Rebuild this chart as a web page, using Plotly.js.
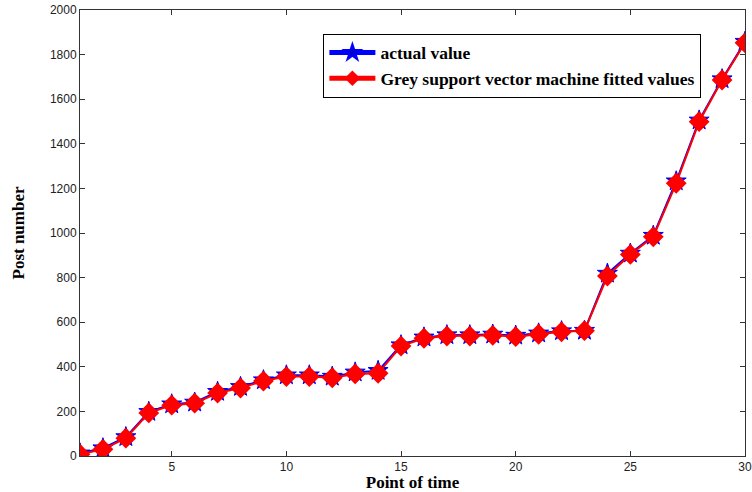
<!DOCTYPE html>
<html>
<head>
<meta charset="utf-8">
<script src="https://cdn.plot.ly/plotly-3.0.1.min.js"></script>
<style>html,body{margin:0;padding:0;background:#fff;}#chart{width:752px;height:492px;}</style>
</head>
<body>
<div id="chart"></div>
<script>
const timePoints = [1,2,3,4,5,6,7,8,9,10,11,12,13,14,15,16,17,18,19,20,21,22,23,24,25,26,27,28,29,30];
const actualValues = [12,35,85,198,232,240,288,310,340,362,362,356,375,382,497,532,542,542,545,540,550,560,562,818,908,988,1232,1505,1690,1858];
const fittedValues = [8,30,80,193,228,237,282,305,336,356,356,351,368,371,493,528,538,538,541,535,546,557,562,807,904,983,1223,1499,1686,1853];
const seriesNames = ['actual value', 'Grey support vector machine fitted values'];
const xTicks = [5,10,15,20,25,30];
const yTicks = [0,200,400,600,800,1000,1200,1400,1600,1800,2000];

const serif = 'Liberation Serif, Times New Roman, serif';

const traces = [
  {
    x: timePoints, y: actualValues, name: seriesNames[0], type: 'scatter', mode: 'lines+markers',
    line: {color: '#0000ff', width: 2},
    marker: {symbol: 'star', size: 15, color: '#0000cc', line: {color: '#0000ff', width: 1}}
  },
  {
    x: timePoints, y: fittedValues, name: seriesNames[1], type: 'scatter', mode: 'lines+markers',
    line: {color: '#ff0000', width: 2},
    marker: {symbol: 'diamond', size: 16, color: '#ff0000', line: {width: 0}}
  }
];

const axisCommon = {
  showline: true, linecolor: '#333', linewidth: 1, mirror: 'ticks',
  ticks: 'inside', ticklen: 5, tickcolor: '#333', tickwidth: 1,
  showgrid: false, zeroline: false,
  tickfont: {family: 'Liberation Sans, Arial, sans-serif', size: 12, color: '#222'}
};

const layout = {
  width: 752, height: 492,
  margin: {l: 80, r: 7, t: 10, b: 36},
  paper_bgcolor: '#fff', plot_bgcolor: '#fff',
  showlegend: true,
  xaxis: Object.assign({}, axisCommon, {
    range: [1, 30], tickvals: xTicks,
    title: {text: '<b>Point of time</b>', standoff: 3, font: {family: serif, size: 17, color: '#000'}}
  }),
  yaxis: Object.assign({}, axisCommon, {
    range: [0, 2000], tickvals: yTicks,
    title: {text: '<b>Post number</b>', standoff: 20, font: {family: serif, size: 17, color: '#000'}}
  }),
  legend: {
    x: 0.366, y: 0.947, xanchor: 'left', yanchor: 'top',
    bgcolor: '#fff', bordercolor: '#000', borderwidth: 1,
    font: {family: serif, size: 17.5, color: '#000', weight: 'bold'},
    tracegroupgap: 0, itemsizing: 'constant', itemwidth: 46
  }
};

Plotly.newPlot('chart', traces, layout, {displayModeBar: false, staticPlot: true});
</script>
</body>
</html>
